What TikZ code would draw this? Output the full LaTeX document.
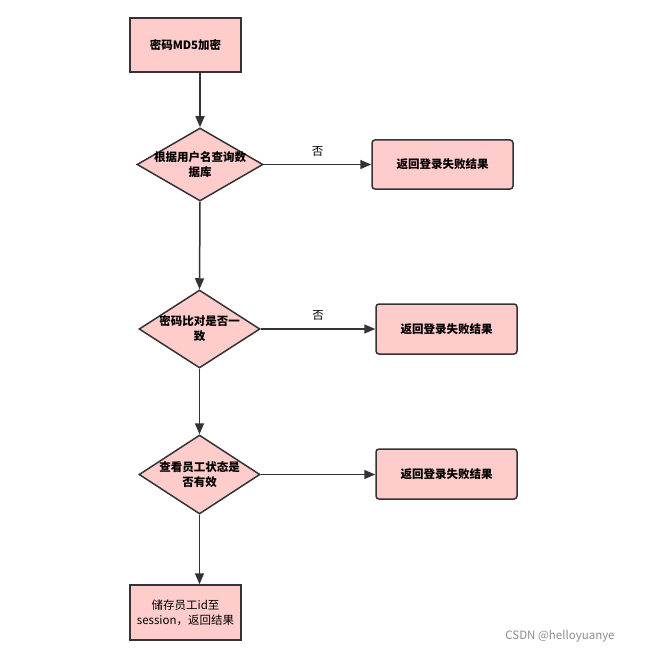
\documentclass[tikz,border=0pt]{standalone}
\usepackage{fontspec}
\setmainfont{Noto Sans CJK SC}
\usetikzlibrary{shapes.geometric,arrows.meta}
\definecolor{pk}{HTML}{FFCCCC}
\definecolor{ln}{HTML}{333333}
\begin{document}
\begin{tikzpicture}[x=1pt,y=-1pt,
  every node/.style={font=\fontsize{11.5}{15}\selectfont},
  bf/.style={font=\fontsize{11.5}{15}\selectfont\bfseries},
  box/.style={draw=ln,line width=1.5pt,fill=pk,rectangle,inner sep=0pt,align=center},
  dia/.style={draw=ln,line width=1.5pt,fill=pk,diamond,inner sep=0pt,align=center},
  arr/.style={draw=ln,line width=1.5pt,-{Triangle[length=11pt,width=9pt]}}]
\useasboundingbox (0,0) rectangle (645,655);
\node[box,bf,minimum width=111,minimum height=54] (b1) at (185.5,45) {密码MD5加密};
\node[dia,minimum width=126,minimum height=73] (d1) at (200,164.5) {};
\node[bf,align=center] (t1) at (200,164.5) {根据用户名查询数\\据库};
\node[box,bf,rounded corners=3pt,minimum width=141,minimum height=49] (r1) at (442.5,164.5) {返回登录失败结果};
\node[dia,minimum width=121,minimum height=78] (d2) at (199.5,329) {};
\node[bf,align=center] (t2) at (199.5,329) {密码比对是否一\\致};
\node[box,bf,rounded corners=3pt,minimum width=141,minimum height=50] (r2) at (446.5,329) {返回登录失败结果};
\node[dia,minimum width=121,minimum height=79] (d3) at (199.5,474.5) {};
\node[bf,align=center] (t3) at (199.5,474.5) {查看员工状态是\\否有效};
\node[box,bf,rounded corners=3pt,minimum width=141,minimum height=50] (r3) at (446.5,474) {返回登录失败结果};
\node[box,minimum width=111,minimum height=55] (b2) at (185.5,612.5) {储存员工id至\\session，返回结果};
\coordinate (b1s) at (200,72);
\draw[arr] (b1s) -- (d1.north);
\draw[arr] (d1.south) -- (d2.north);
\draw[arr] (d2.south) -- (d3.north);
\draw[arr] (d3.south) -- (b2.north -| d3.south);
\draw[arr] (d1.east) -- node[above=4pt] (n1) {否} (r1.west);
\draw[arr] (d2.east) -- node[above=4pt] (n2) {否} (r2.west);
\draw[arr] (d3.east) -- (r3.west |- d3.east);
\node[text=black!45] (wm) at (560,636) {CSDN @helloyuanye};
\end{tikzpicture}
\end{document}
